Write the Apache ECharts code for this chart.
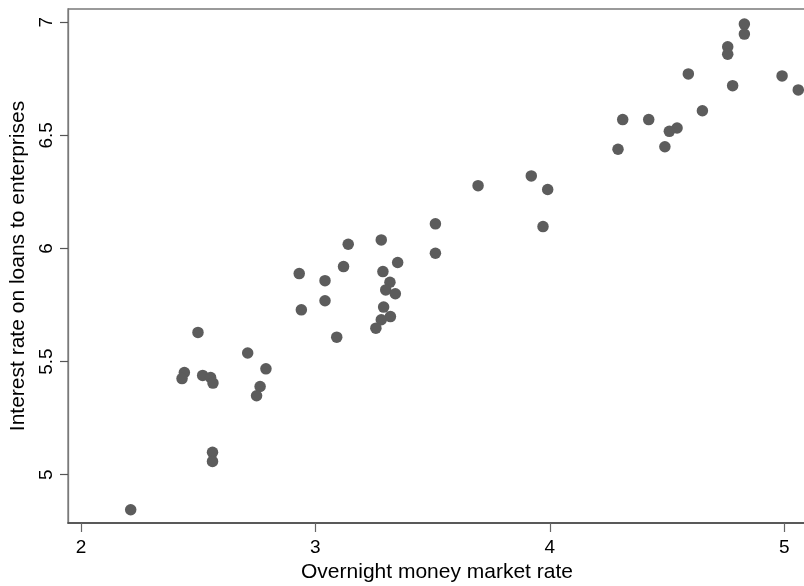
<!DOCTYPE html>
<html>
<head>
<meta charset="utf-8">
<script src="https://cdn.jsdelivr.net/npm/echarts@6/dist/echarts.min.js"></script>
<style>
html,body{margin:0;padding:0;background:#fff;}
#chart{width:804px;height:586px;}
</style>
</head>
<body>
<div id="chart"></div>
<script>
// Overnight money market rate (x) and interest rate on loans to enterprises (y)
const overnightRate = [
  2.212, 2.561, 2.561,
  2.499, 2.441, 2.431, 2.519, 2.553, 2.563, 2.711, 2.789, 2.764, 2.749,
  3.140, 3.120, 2.931, 3.041, 3.041, 2.940, 3.091,
  3.281, 3.351, 3.288, 3.318, 3.300, 3.341, 3.291, 3.320, 3.281, 3.258,
  3.512, 3.512, 3.971,
  3.694, 3.921, 3.991,
  4.830, 4.830, 4.759, 4.759, 4.591, 4.991, 4.780, 5.060, 4.651,
  4.311, 4.422, 4.543, 4.510, 4.491, 4.291
];
const loanRate = [
  4.845, 5.099, 5.059,
  5.629, 5.452, 5.425, 5.439, 5.430, 5.405, 5.538, 5.468, 5.390, 5.349,
  6.019, 5.920, 5.889, 5.858, 5.769, 5.729, 5.608,
  6.038, 5.938, 5.898, 5.851, 5.817, 5.800, 5.741, 5.699, 5.685, 5.648,
  6.109, 5.979, 6.097,
  6.278, 6.321, 6.261,
  6.992, 6.948, 6.892, 6.859, 6.772, 6.763, 6.720, 6.701, 6.609,
  6.570, 6.570, 6.533, 6.518, 6.450, 6.439
];
const xTicks = [2, 3, 4, 5];
const yTicks = [5, 5.5, 6, 6.5, 7];
const xTitle = 'Overnight money market rate';
const yTitle = 'Interest rate on loans to enterprises';

const points = overnightRate.map((x, i) => [x, loanRate[i]]);
const font = 'Liberation Sans, Arial, Helvetica, sans-serif';

const chart = echarts.init(document.getElementById('chart'), null, {renderer: 'canvas'});
chart.setOption({
  animation: false,
  backgroundColor: '#ffffff',
  grid: {
    left: 68, top: 9, width: 738, height: 514,
    outerBoundsMode: 'none', containLabel: false,
    show: true, borderColor: '#7a7a7a', borderWidth: 1.3, backgroundColor: '#ffffff'
  },
  xAxis: {
    type: 'value',
    min: 1.9445, max: 5.093,
    name: xTitle, nameLocation: 'middle', nameGap: 39,
    nameTextStyle: {fontFamily: font, fontSize: 21, color: '#000'},
    axisLine: {show: true, lineStyle: {color: '#444', width: 1.6}},
    axisTick: {show: true, length: 9, customValues: xTicks, lineStyle: {color: '#666', width: 1.2}},
    axisLabel: {customValues: xTicks, margin: 15, fontFamily: font, fontSize: 19, color: '#000'},
    splitLine: {show: false}
  },
  yAxis: {
    type: 'value',
    min: 4.7866, max: 7.0588,
    name: yTitle, nameLocation: 'middle', nameGap: 38,
    nameTextStyle: {fontFamily: font, fontSize: 21, color: '#000'},
    axisLine: {show: true, lineStyle: {color: '#7a7a7a', width: 1.3}},
    axisTick: {show: true, length: 8, customValues: yTicks, lineStyle: {color: '#555', width: 1.2}},
    axisLabel: {customValues: yTicks, rotate: 90, margin: 12, fontFamily: font, fontSize: 19, color: '#000',
      formatter: v => String(v)},
    splitLine: {show: false}
  },
  series: [{
    type: 'scatter',
    data: points,
    symbol: 'circle',
    symbolSize: 11.5,
    itemStyle: {color: '#5c5c5c', opacity: 1}
  }]
});
</script>
</body>
</html>
